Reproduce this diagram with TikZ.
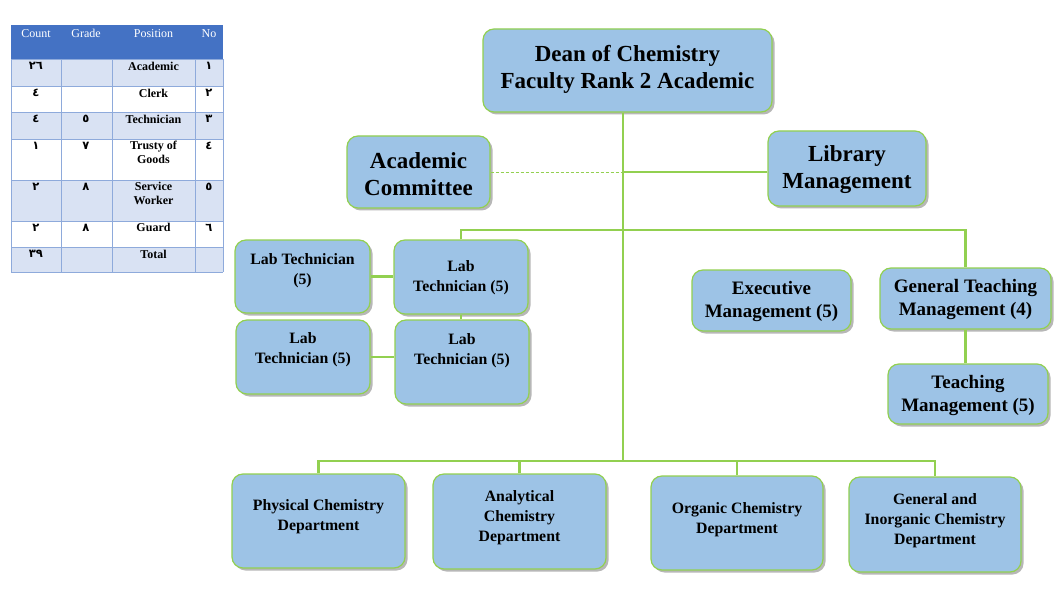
\documentclass[tikz,border=0pt]{standalone}
\usepackage{fontspec}
\setmainfont{Liberation Serif}
\newfontfamily\arabicfont[Script=Arabic]{DejaVu Sans}
\usetikzlibrary{shadows}
\definecolor{boxfill}{HTML}{9DC3E6}
\definecolor{boxline}{HTML}{92D050}
\definecolor{hdr}{HTML}{4472C4}
\definecolor{rowa}{HTML}{D9E2F3}
\definecolor{gridc}{HTML}{8EAADB}
\newcommand\fsA{\fontsize{23}{27}\selectfont}
\newcommand\fsB{\fontsize{19}{23}\selectfont}
\newcommand\fsC{\fontsize{15.8}{20}\selectfont}
\newcommand\fsT{\fontsize{12}{14}\selectfont}
\newcommand\fsD{\arabicfont\bfseries\fontsize{11.5}{14}\selectfont}
\begin{document}
\begin{tikzpicture}[x=1pt,y=-1pt,
  box/.style={draw=boxline, line width=1.2pt, fill=boxfill, rounded corners=11pt, inner sep=0pt,
    drop shadow={shadow xshift=2.5pt, shadow yshift=-2.5pt, opacity=0.4, fill=black!70}},
  txt/.style={font=\bfseries, align=center, inner sep=0pt},
  conn/.style={draw=boxline, line width=2.4pt},
  th/.style={anchor=north, inner sep=0pt, text=white, font=\fsT, align=center},
  tdp/.style={anchor=north, inner sep=0pt, font=\fsT\bfseries, align=center},
  tdn/.style={anchor=north, inner sep=0pt, font=\fsD}]
\useasboundingbox (0,0) rectangle (1061,591);
\fill[white] (0,0) rectangle (1061,591);

% ---------- table ----------
\fill[hdr] (11,25) rectangle (223,59);
\fill[rowa] (11,59) rectangle (223,86);
\fill[rowa] (11,112) rectangle (223,139);
\fill[rowa] (11,180) rectangle (223,221);
\fill[rowa] (11,247) rectangle (223,272);
\draw[gridc, line width=0.8pt] (11,59) -- (223,59) (11,86) -- (223,86) (11,112) -- (223,112)
  (11,139) -- (223,139) (11,180) -- (223,180) (11,221) -- (223,221) (11,247) -- (223,247)
  (11,272) -- (223,272) (11,59) -- (11,272) (61,59) -- (61,272) (112,59) -- (112,272)
  (195,59) -- (195,272) (223,59) -- (223,272);
\node[th] (hc) at (36,29) {Count};
\node[th] (hg) at (86,29) {Grade};
\node[th] (hp) at (153.5,29) {Position};
\node[th] (hn) at (209,29) {No};
\node[tdp] (p1) at (153.5,62) {Academic};
\node[tdp] (p2) at (153.5,89) {Clerk};
\node[tdp] (p3) at (153.5,115) {Technician};
\node[tdp] (p4) at (153.5,141) {Trusty of\\Goods};
\node[tdp] (p5) at (153.5,182) {Service\\Worker};
\node[tdp] (p6) at (153.5,223) {Guard};
\node[tdp] (p7) at (153.5,250) {Total};
\node[tdn] (c1) at (36,62) {٢٦};
\node[tdn] (c2) at (36,89) {٤};
\node[tdn] (c3) at (36,115) {٤};
\node[tdn] (c4) at (36,142) {١};
\node[tdn] (c5) at (36,183) {٢};
\node[tdn] (c6) at (36,224) {٢};
\node[tdn] (c7) at (36,250) {٣٩};
\node[tdn] (g3) at (86,115) {٥};
\node[tdn] (g4) at (86,142) {٧};
\node[tdn] (g5) at (86,183) {٨};
\node[tdn] (g6) at (86,224) {٨};
\node[tdn] (n1) at (209,62) {١};
\node[tdn] (n2) at (209,89) {٢};
\node[tdn] (n3) at (209,115) {٣};
\node[tdn] (n4) at (209,142) {٤};
\node[tdn] (n5) at (209,183) {٥};
\node[tdn] (n6) at (209,224) {٦};

% ---------- boxes ----------
\node[box, minimum width=289, minimum height=83] (dean) at (627.5,70.5) {};
\node[box, minimum width=143, minimum height=72] (acad) at (418.5,172) {};
\node[box, minimum width=158, minimum height=75] (lib) at (847,168.5) {};
\node[box, minimum width=135, minimum height=73] (L1) at (302.5,276.5) {};
\node[box, minimum width=134, minimum height=74] (L2) at (461,277) {};
\node[box, minimum width=134, minimum height=74] (L3) at (303,357) {};
\node[box, minimum width=134, minimum height=84] (L4) at (462,362) {};
\node[box, minimum width=159, minimum height=61] (exec) at (771.5,300.5) {};
\node[box, minimum width=171, minimum height=61] (gen) at (965.5,298.5) {};
\node[box, minimum width=160, minimum height=60] (teach) at (968,394) {};
\node[box, minimum width=173, minimum height=94] (phys) at (318.5,521) {};
\node[box, minimum width=173, minimum height=95] (anal) at (519.5,521.5) {};
\node[box, minimum width=172, minimum height=94] (org) at (737,523) {};
\node[box, minimum width=172, minimum height=95] (ginorg) at (935,524.5) {};

% ---------- texts ----------
\node[txt, font=\fsA\bfseries] (deanT) at (627.5,69.5) {Dean of Chemistry\\Faculty Rank 2 Academic};
\node[txt, font=\fsA\bfseries] (acadT) at (418.5,174) {Academic\\Committee};
\node[txt, font=\fsA\bfseries] (libT) at (847,170) {Library\\Management};
\node[txt, font=\fsC\bfseries] (L1T) at (302.5,270.5) {Lab Technician\\(5)};
\node[txt, font=\fsC\bfseries] (L2T) at (461,278) {Lab\\Technician (5)};
\node[txt, font=\fsC\bfseries] (L3T) at (303,350) {Lab\\Technician (5)};
\node[txt, font=\fsC\bfseries] (L4T) at (462,350.5) {Lab\\Technician (5)};
\node[txt, font=\fsB\bfseries] (execT) at (771.5,302) {Executive\\Management (5)};
\node[txt, font=\fsB\bfseries] (genT) at (965.5,300) {General Teaching\\Management (4)};
\node[txt, font=\fsB\bfseries] (teachT) at (968,396) {Teaching\\Management (5)};
\node[txt, font=\fsC\bfseries] (physT) at (318.5,517) {Physical Chemistry\\Department};
\node[txt, font=\fsC\bfseries] (analT) at (519.5,518) {Analytical\\Chemistry\\Department};
\node[txt, font=\fsC\bfseries] (orgT) at (737,520) {Organic Chemistry\\Department};
\node[txt, font=\fsC\bfseries] (ginorgT) at (935,521) {General and\\Inorganic Chemistry\\Department};

% ---------- connectors ----------
\coordinate (busA) at (623,230);
\coordinate (busB) at (623,461);
\draw[conn] (dean.south -| busB) -- (busB);
\draw[boxline, line width=0.9pt, dash pattern=on 3pt off 2pt] (acad.east) -- (acad.east -| busA);
\draw[conn] (lib.west |- acad.east) -- (acad.east -| busA);
\draw[conn] (L2.north) -- (L2.north |- busA) -- (gen.north |- busA) -- (gen.north);
\draw[conn] (L1.east) -- (L1.east -| L2.west);
\draw[conn] (L2.south) -- (L2.south |- L4.north);
\draw[conn] (L3.east) -- (L3.east -| L4.west);
\draw[conn] (gen.south) -- (gen.south |- teach.north);
\draw[conn] (phys.north) -- (phys.north |- busB) -- (ginorg.north |- busB) -- (ginorg.north);
\draw[conn] (anal.north) -- (anal.north |- busB);
\draw[conn] (org.north) -- (org.north |- busB);
\end{tikzpicture}
\end{document}
